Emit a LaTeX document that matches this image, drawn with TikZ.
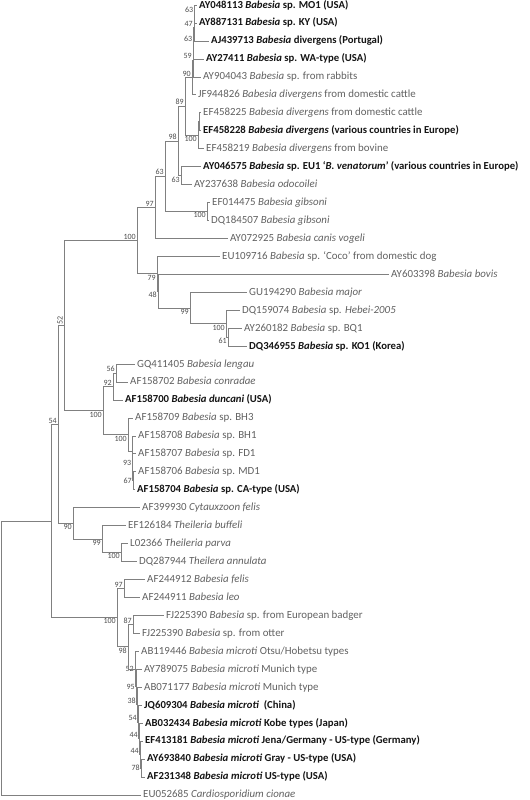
\documentclass[tikz,border=0pt]{standalone}
\usepackage{fontspec}
\setmainfont{Carlito}
\usepackage{tikz}

\begin{document}
\begin{tikzpicture}[x=1pt, y=-17.95pt,
    branch/.style={draw=black!50, line width=0.6pt},
    taxon/.style={anchor=west, inner xsep=2pt, inner ysep=0pt, text height=8pt, text depth=2pt,
        font=\fontsize{10.9}{13}\selectfont, text=black!62},
    keytaxon/.style={taxon, font=\fontsize{10.7}{13}\selectfont\bfseries, text=black!92},
    boot/.style={font=\fontsize{8}{9}\selectfont, text=black!70, inner sep=1pt}]

    \useasboundingbox (0,-0.2786) rectangle (530,44.29);

    % Taxa, one row each
    \node[keytaxon] (MO1) at (197,0) {AY048113 \textit{Babesia} sp. MO1 (USA)};
    \node[keytaxon] (KY) at (197,1) {AY887131 \textit{Babesia} sp. KY (USA)};
    \node[keytaxon] (Portugal) at (209,2) {AJ439713 \textit{Babesia} divergens (Portugal)};
    \node[keytaxon] (WA) at (204,3) {AY27411 \textit{Babesia} sp. WA-type (USA)};
    \node[taxon] (rabbit) at (201,4) {AY904043 \textit{Babesia} sp. from rabbits};
    \node[taxon] (cattleA) at (196,5) {JF944826 \textit{Babesia divergens} from domestic cattle};
    \node[taxon] (cattleB) at (201,6) {EF458225 \textit{Babesia divergens} from domestic cattle};
    \node[keytaxon] (Europe) at (201,7) {EF458228 \textit{Babesia divergens} (various countries in Europe)};
    \node[taxon] (bovine) at (204,8) {EF458219 \textit{Babesia divergens} from bovine};
    \node[keytaxon] (EU1) at (201,9) {AY046575 \textit{Babesia} sp. EU1 ‘\textit{B. venatorum}’ (various countries in Europe)};
    \node[taxon] (odoc) at (192,10) {AY237638 \textit{Babesia odocoilei}};
    \node[taxon] (gibA) at (210,11) {EF014475 \textit{Babesia gibsoni}};
    \node[taxon] (gibB) at (209,12) {DQ184507 \textit{Babesia gibsoni}};
    \node[taxon] (vogeli) at (228,13) {AY072925 \textit{Babesia canis vogeli}};
    \node[taxon] (coco) at (220,14) {EU109716 \textit{Babesia} sp. ‘Coco’ from domestic dog};
    \node[taxon] (bovis) at (389,15) {AY603398 \textit{Babesia bovis}};
    \node[taxon] (major) at (247,16) {GU194290 \textit{Babesia major}};
    \node[taxon] (hebei) at (240,17) {DQ159074 \textit{Babesia} sp. \textit{Hebei-2005}};
    \node[taxon] (BQ1) at (242,18) {AY260182 \textit{Babesia} sp. BQ1};
    \node[keytaxon] (KO1) at (247,19) {DQ346955 \textit{Babesia} sp. KO1 (Korea)};
    \node[taxon] (lengau) at (135,20) {GQ411405 \textit{Babesia lengau}};
    \node[taxon] (conradae) at (128,21) {AF158702 \textit{Babesia conradae}};
    \node[keytaxon] (duncani) at (123,22) {AF158700 \textit{Babesia duncani} (USA)};
    \node[taxon] (BH3) at (133,23) {AF158709 \textit{Babesia} sp. BH3};
    \node[taxon] (BH1) at (136,24) {AF158708 \textit{Babesia} sp. BH1};
    \node[taxon] (FD1) at (136,25) {AF158707 \textit{Babesia} sp. FD1};
    \node[taxon] (MD1) at (136,26) {AF158706 \textit{Babesia} sp. MD1};
    \node[keytaxon] (CA) at (135,27) {AF158704 \textit{Babesia} sp. CA-type (USA)};
    \node[taxon] (cytaux) at (140,28) {AF399930 \textit{Cytauxzoon felis}};
    \node[taxon] (buffeli) at (126,29) {EF126184 \textit{Theileria buffeli}};
    \node[taxon] (parva) at (128,30) {L02366 \textit{Theileria parva}};
    \node[taxon] (annulata) at (137,31) {DQ287944 \textit{Theilera annulata}};
    \node[taxon] (felis) at (145,32) {AF244912 \textit{Babesia felis}};
    \node[taxon] (leo) at (140,33) {AF244911 \textit{Babesia leo}};
    \node[taxon] (badger) at (164,34) {FJ225390 \textit{Babesia} sp. from European badger};
    \node[taxon] (otter) at (140,35) {FJ225390 \textit{Babesia} sp. from otter};
    \node[taxon] (otsu) at (139,36) {AB119446 \textit{Babesia microti} Otsu/Hobetsu types};
    \node[taxon] (munichA) at (142,37) {AY789075 \textit{Babesia microti} Munich type};
    \node[taxon] (munichB) at (142,38) {AB071177 \textit{Babesia microti} Munich type};
    \node[keytaxon] (china) at (142,39) {JQ609304 \textit{Babesia microti}\ \ (China)};
    \node[keytaxon] (kobe) at (143,40) {AB032434 \textit{Babesia microti} Kobe types (Japan)};
    \node[keytaxon] (jena) at (143,41) {EF413181 \textit{Babesia microti} Jena/Germany - US-type (Germany)};
    \node[keytaxon] (gray) at (145,42) {AY693840 \textit{Babesia microti} Gray - US-type (USA)};
    \node[keytaxon] (ustype) at (145,43) {AF231348 \textit{Babesia microti} US-type (USA)};
    \node[taxon] (cardio) at (141,44) {EU052685 \textit{Cardiosporidium cionae}};

    % divergens group
    \coordinate[label={[boot]above left:63}] (dv1) at (194.5,0.5);
    \coordinate[label={[boot]above left:47}] (dv2) at (194,1.25);
    \coordinate[label={[boot]above left:63}] (dv3) at (193.5,2.125);
    \coordinate[label={[boot]above left:59}] (dv4) at (193,3.06);
    \coordinate[label={[boot]above left:90}] (dv5) at (192,4.03);
    \coordinate (ef1) at (199.5,6.5);
    \coordinate[label={[boot]below left:100}] (ef2) at (198,7.25);
    \coordinate[label={[boot]above left:89}] (dv6) at (185,5.64);
    \coordinate[label={[boot]below left:63}] (ven) at (181,9.5);
    \coordinate[label={[boot]above left:98}] (dv7) at (178,7.57);
    \coordinate[label={[boot]below left:100}] (gib) at (207,11.5);
    \coordinate[label={[boot]above left:63}] (dv8) at (165,9.535);
    \coordinate[label={[boot]above left:97}] (dv9) at (155,11.27);

    % bovis and major group
    \coordinate[label={[boot]below left:61}] (ko) at (228,18.5);
    \coordinate[label={[boot]below left:100}] (hb) at (226,17.75);
    \coordinate[label={[boot]below left:99}] (mj) at (190,16.875);
    \coordinate[label={[boot]below left:48}] (bv) at (158,15.94);
    \coordinate[label={[boot]below left:79}] (cc) at (157,14.97);
    \coordinate[label={[boot]above left:100}] (bab) at (137,13.12);

    % duncani group
    \coordinate[label={[boot]above left:56}] (le) at (116,20.5);
    \coordinate[label={[boot]above left:92}] (du) at (113,21.25);
    \coordinate[label={[boot]left:67}] (bh1) at (133,26.5);
    \coordinate[label={[boot]above left:93}] (bh2) at (132.5,25.75);
    \coordinate (bh3) at (132,24.875);
    \coordinate[label={[boot]below left:100}] (bh4) at (128,23.94);
    \coordinate[label={[boot]below left:100}] (dun) at (103,22.6);
    \coordinate[label={[boot, rotate=90, anchor=south west]left:52}] (bb) at (64,17.86);

    % Theileria group
    \coordinate[label={[boot]below left:100}] (th1) at (121,30.5);
    \coordinate[label={[boot]below left:99}] (th2) at (102,29.75);
    \coordinate[label={[boot]below left:90}] (th3) at (73,28.875);
    \coordinate[label={[boot]above left:54}] (ab) at (58,23.37);

    % microti group
    \coordinate[label={[boot]above left:97}] (fl) at (124,32.5);
    \coordinate[label={[boot]above left:87}] (ot) at (133,34.5);
    \coordinate[label={[boot]left:52}] (mi1) at (135,36.99);
    \coordinate[label={[boot]left:95}] (mi2) at (136,37.98);
    \coordinate[label={[boot]above left:38}] (mi3) at (137,38.97);
    \coordinate[label={[boot]above left:54}] (mi4) at (138,39.94);
    \coordinate[label={[boot]above left:44}] (mi5) at (139,40.875);
    \coordinate[label={[boot]above left:44}] (mi6) at (140,41.75);
    \coordinate[label={[boot]left:78}] (mi7) at (141,42.5);
    \coordinate[label={[boot]below left:98}] (mb) at (128,35.75);
    \coordinate[label={[boot]below left:100}] (mc) at (117,34.12);

    % base of the tree
    \coordinate (base) at (51,28.75);
    \coordinate (root) at (1,36.37);

    % Branches
    \draw[branch] (dv1) |- (MO1.west) (dv1) |- (KY.west);
    \draw[branch] (dv2) |- (dv1) (dv2) |- (Portugal.west);
    \draw[branch] (dv3) |- (dv2) (dv3) |- (WA.west);
    \draw[branch] (dv4) |- (dv3) (dv4) |- (rabbit.west);
    \draw[branch] (dv5) |- (dv4) (dv5) |- (cattleA.west);
    \draw[branch] (ef1) |- (cattleB.west) (ef1) |- (Europe.west);
    \draw[branch] (ef2) |- (ef1) (ef2) |- (bovine.west);
    \draw[branch] (dv6) |- (dv5) (dv6) |- (ef2);
    \draw[branch] (ven) |- (EU1.west) (ven) |- (odoc.west);
    \draw[branch] (dv7) |- (dv6) (dv7) |- (ven);
    \draw[branch] (gib) |- (gibA.west) (gib) |- (gibB.west);
    \draw[branch] (dv8) |- (dv7) (dv8) |- (gib);
    \draw[branch] (dv9) |- (dv8) (dv9) |- (vogeli.west);

    \draw[branch] (ko) |- (BQ1.west) (ko) |- (KO1.west);
    \draw[branch] (hb) |- (hebei.west) (hb) |- (ko);
    \draw[branch] (mj) |- (major.west) (mj) |- (hb);
    \draw[branch] (bv) |- (bovis.west) (bv) |- (mj);
    \draw[branch] (cc) |- (coco.west) (cc) |- (bv);
    \draw[branch] (bab) |- (dv9) (bab) |- (cc);

    \draw[branch] (le) |- (lengau.west) (le) |- (conradae.west);
    \draw[branch] (du) |- (le) (du) |- (duncani.west);
    \draw[branch] (bh1) |- (MD1.west) (bh1) |- (CA.west);
    \draw[branch] (bh2) |- (FD1.west) (bh2) |- (bh1);
    \draw[branch] (bh3) |- (BH1.west) (bh3) |- (bh2);
    \draw[branch] (bh4) |- (BH3.west) (bh4) |- (bh3);
    \draw[branch] (dun) |- (du) (dun) |- (bh4);
    \draw[branch] (bb) |- (bab) (bb) |- (dun);

    \draw[branch] (th1) |- (parva.west) (th1) |- (annulata.west);
    \draw[branch] (th2) |- (buffeli.west) (th2) |- (th1);
    \draw[branch] (th3) |- (cytaux.west) (th3) |- (th2);
    \draw[branch] (ab) |- (bb) (ab) |- (th3);

    \draw[branch] (fl) |- (felis.west) (fl) |- (leo.west);
    \draw[branch] (ot) |- (badger.west) (ot) |- (otter.west);
    \draw[branch] (mi7) |- (gray.west) (mi7) |- (ustype.west);
    \draw[branch] (mi6) |- (jena.west) (mi6) |- (mi7);
    \draw[branch] (mi5) |- (kobe.west) (mi5) |- (mi6);
    \draw[branch] (mi4) |- (china.west) (mi4) |- (mi5);
    \draw[branch] (mi3) |- (munichB.west) (mi3) |- (mi4);
    \draw[branch] (mi2) |- (munichA.west) (mi2) |- (mi3);
    \draw[branch] (mi1) |- (otsu.west) (mi1) |- (mi2);
    \draw[branch] (mb) |- (ot) (mb) |- (mi1);
    \draw[branch] (mc) |- (fl) (mc) |- (mb);

    \draw[branch] (base) |- (ab) (base) |- (mc);
    \draw[branch] (root) |- (base) (root) |- (cardio.west);
\end{tikzpicture}
\end{document}
